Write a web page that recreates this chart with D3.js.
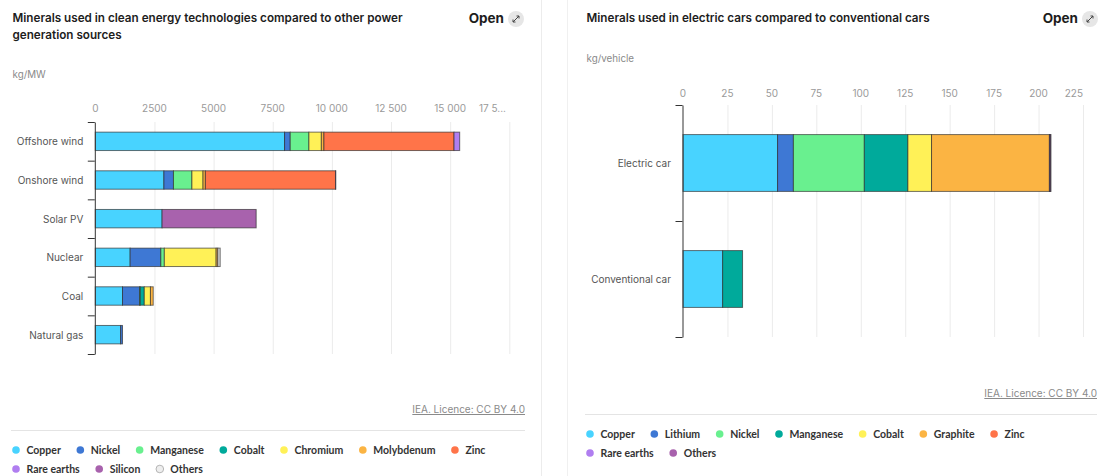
<!DOCTYPE html>
<html>
<head>
<meta charset="utf-8">
<title>Minerals</title>
<style>
  body { margin: 0; background: #fff; }
  svg { display: block; font-family: Inter, "Noto Sans", sans-serif; }
  .title { font-size: 11.7px; font-weight: 600; fill: #1d1d1d; }
  .open { font-size: 13.5px; font-weight: 700; fill: #1d1d1d; }
  .unit { font-size: 9.8px; fill: #8a8a8a; }
  .tick-label { font-size: 10px; fill: #9a9a9a; }
  .cat-label { font-size: 10px; fill: #555; }
  .legend text { font-family: Lato, Inter, sans-serif; font-size: 10.5px; font-weight: 700; fill: #333; }
  .licence { font-size: 10px; fill: #8a8a8a; text-decoration: underline; }
</style>
</head>
<body>
<svg></svg>
<script src="https://d3js.org/d3.v7.min.js"></script>
<script>
// ---- data: power generation (kg/MW) ----
const powerSources = ["Offshore wind", "Onshore wind", "Solar PV", "Nuclear", "Coal", "Natural gas"];
const powerMinerals = ["Copper", "Nickel", "Manganese", "Cobalt", "Chromium", "Molybdenum", "Zinc", "Rare earths", "Silicon", "Others"];
const powerCopper     = [8000, 2900, 2822, 1473, 1150, 1070];
const powerNickel     = [240, 404, 0, 1297, 721, 80];
const powerManganese  = [790, 780, 0, 148, 30, 0];
const powerCobalt     = [0, 0, 0, 0, 170, 0];
const powerChromium   = [525, 470, 0, 2190, 260, 0];
const powerMolybdenum = [109, 99, 0, 70, 117, 0];
const powerZinc       = [5500, 5500, 0, 0, 0, 0];
const powerRareEarths = [239, 14, 0, 0, 0, 0];
const powerSilicon    = [0, 0, 3978, 0, 0, 0];
const powerOthers     = [0, 0, 0, 100, 0, 0];
const powerTicks = [0, 2500, 5000, 7500, 10000, 12500, 15000, 17500];
const powerTickLabels = ["0", "2500", "5000", "7500", "10 000", "12 500", "15 000", "17 5..."];

// ---- data: cars (kg/vehicle) ----
const carTypes = ["Electric car", "Conventional car"];
const carMinerals = ["Copper", "Lithium", "Nickel", "Manganese", "Cobalt", "Graphite", "Zinc", "Rare earths", "Others"];
const carCopper     = [53.2, 22.3];
const carLithium    = [8.9, 0];
const carNickel     = [39.9, 0];
const carManganese  = [24.5, 11.2];
const carCobalt     = [13.3, 0];
const carGraphite   = [66.3, 0];
const carZinc       = [0.1, 0];
const carRareEarths = [0.5, 0];
const carOthers     = [0.3, 0];
const carTicks = [0, 25, 50, 75, 100, 125, 150, 175, 200, 225];
const carTickLabels = ["0", "25", "50", "75", "100", "125", "150", "175", "200", "225"];

// palette shared by legend position
const palette = ["#48d3ff", "#3e78d4", "#69f08f", "#00aa9b", "#fff157", "#fbb443", "#ff7449", "#b07ef0", "#a862ad", "#d9d9d9"];
const carPalette = ["#48d3ff", "#3e78d4", "#69f08f", "#00aa9b", "#fff157", "#fbb443", "#ff7449", "#b07ef0", "#a862ad"];

const width = 1102, height = 476;
const svg = d3.select("svg").attr("width", width).attr("height", height);

// card borders
svg.append("line").attr("x1", 541.5).attr("x2", 541.5).attr("y1", 0).attr("y2", height)
  .attr("stroke", "#ececec");
svg.append("line").attr("x1", 567.5).attr("x2", 567.5).attr("y1", 0).attr("y2", height)
  .attr("stroke", "#f0f0f0");

function drawPanel(opt) {
  const g = svg.append("g");
  const n = opt.categories.length;

  // title
  opt.title.forEach((t, i) => {
    g.append("text").attr("class", "title").attr("x", opt.left + 1.5).attr("y", 22 + i * 17).text(t);
  });
  // open button
  g.append("text").attr("class", "open").attr("x", opt.openX).attr("y", 23)
    .attr("text-anchor", "end").text("Open");
  const ic = g.append("g").attr("transform", `translate(${opt.openX + 12},19)`);
  ic.append("circle").attr("r", 8).attr("fill", "#e6e6e6");
  ic.append("path").attr("d", "M-3,3L3,-3M0.5,-3H3V-0.5M-3,0.5V3H-0.5")
    .attr("fill", "none").attr("stroke", "#444").attr("stroke-width", 1);

  g.append("text").attr("class", "unit").attr("x", opt.left + 1.5).attr("y", opt.unitY).text(opt.unit);

  const x = d3.scaleLinear().domain([0, opt.ticks[opt.ticks.length - 1]]).range([opt.x0, opt.x1]);
  const yIdx = d3.scaleLinear().domain([0, n]).range([opt.y0, opt.y1]);
  const y = d3.scaleBand().domain(opt.categories).range([opt.y0, opt.y1]).padding(0);

  // grid
  g.append("g").selectAll("line").data(opt.ticks.slice(1)).join("line")
    .attr("x1", d => x(d) + 0.5).attr("x2", d => x(d) + 0.5)
    .attr("y1", opt.y0).attr("y2", opt.y1)
    .attr("stroke", "#ebebeb");

  // tick labels on top
  g.append("g").selectAll("text").data(opt.ticks).join("text")
    .attr("class", "tick-label")
    .attr("y", opt.tickY + 4)
    .text((d, i) => opt.tickLabels[i])
    .each(function (d) {
      const w = this.getComputedTextLength();
      let cx = x(d);
      if (cx + w / 2 > opt.labelBound) cx = opt.labelBound - w / 2;
      d3.select(this).attr("x", cx).attr("text-anchor", "middle");
    });

  // stacked bars
  const rows = opt.categories.map((c, i) => {
    const r = { cat: c };
    opt.minerals.forEach((m, j) => r[m] = opt.series[j][i]);
    return r;
  });
  const stack = d3.stack().keys(opt.minerals)(rows);
  const color = d3.scaleOrdinal().domain(opt.minerals).range(opt.colors);
  const bh = y.bandwidth() * opt.barRatio;
  g.append("g").selectAll("g").data(stack).join("g")
    .attr("fill", d => color(d.key))
    .selectAll("rect").data(d => d.filter(v => v[1] - v[0] > 0)).join("rect")
    .attr("x", d => x(d[0]))
    .attr("width", d => x(d[1]) - x(d[0]))
    .attr("y", d => y(d.data.cat) + y.bandwidth() / 2 - bh / 2)
    .attr("height", bh)
    .attr("stroke", "#2a2a2a").attr("stroke-opacity", 0.65).attr("stroke-width", 1);

  // y axis with ticks at band boundaries
  const ax = g.append("g").attr("transform", `translate(${opt.x0 - 0.5},0)`)
    .call(d3.axisLeft(yIdx).tickValues(d3.range(n + 1)).tickFormat("").tickSize(7).tickSizeOuter(0));
  ax.select(".domain").attr("stroke", "#333");
  ax.selectAll(".tick line").attr("stroke", "#333");

  g.append("g").selectAll("text").data(opt.categories).join("text")
    .attr("class", "cat-label")
    .attr("x", opt.x0 - 12).attr("y", d => y(d) + y.bandwidth() / 2 + 4)
    .attr("text-anchor", "end").text(d => d);

  // licence + separator
  g.append("text").attr("class", "licence").attr("x", opt.right).attr("y", opt.licY)
    .attr("text-anchor", "end").text("IEA. Licence: CC BY 4.0");
  g.append("line").attr("x1", opt.left).attr("x2", opt.right)
    .attr("y1", opt.sepY + 0.5).attr("y2", opt.sepY + 0.5).attr("stroke", "#e4e4e4");

  // legend, wrapped in rows
  const lg = g.append("g").attr("class", "legend");
  let lx = opt.left + 5, ly = opt.legY;
  opt.minerals.forEach((m, i) => {
    const item = lg.append("g");
    const t = item.append("text").attr("x", 10.5).attr("y", 3.8).text(m);
    const w = t.node().getComputedTextLength();
    if (lx + 10.5 + w > opt.right) { lx = opt.left + 5; ly += 19; }
    item.attr("transform", `translate(${lx},${ly})`);
    const isOther = opt.colors[i] === "#d9d9d9";
    item.append("circle").attr("r", 3.8)
      .attr("fill", isOther ? "#eeeeee" : color(m))
      .attr("stroke", isOther ? "#b5b5b5" : "none");
    lx += 10.5 + w + 19.5;
  });
}

drawPanel({
  title: ["Minerals used in clean energy technologies compared to other power", "generation sources"],
  left: 11, right: 525, openX: 504, unit: "kg/MW", unitY: 78,
  categories: powerSources, minerals: powerMinerals,
  series: [powerCopper, powerNickel, powerManganese, powerCobalt, powerChromium, powerMolybdenum,
           powerZinc, powerRareEarths, powerSilicon, powerOthers],
  colors: palette, ticks: powerTicks, tickLabels: powerTickLabels,
  x0: 95.3, x1: 509.3, y0: 122, y1: 354, tickY: 108, labelBound: 506, barRatio: 0.476,
  licY: 413, sepY: 430, legY: 450
});

drawPanel({
  title: ["Minerals used in electric cars compared to conventional cars"],
  left: 585, right: 1097, openX: 1078, unit: "kg/vehicle", unitY: 62,
  categories: carTypes, minerals: carMinerals,
  series: [carCopper, carLithium, carNickel, carManganese, carCobalt, carGraphite,
           carZinc, carRareEarths, carOthers],
  colors: carPalette, ticks: carTicks, tickLabels: carTickLabels,
  x0: 683, x1: 1083, y0: 105, y1: 337, tickY: 93, labelBound: 1083, barRatio: 0.49,
  licY: 397, sepY: 414, legY: 434
});
</script>
</body>
</html>
